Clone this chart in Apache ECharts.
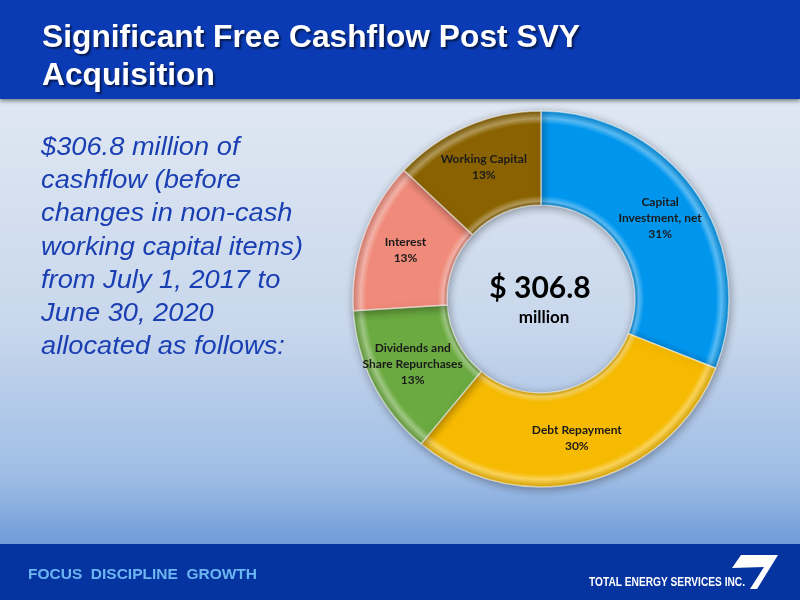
<!DOCTYPE html>
<html><head><meta charset="utf-8">
<script src="https://cdn.jsdelivr.net/npm/echarts@6/dist/echarts.min.js"></script>
<style>html,body{margin:0;padding:0;}#c{width:800px;height:600px;}</style>
</head><body><div id="c"></div>
<script>
const categories = ['Capital\nInvestment, net', 'Debt Repayment', 'Dividends and\nShare Repurchases', 'Interest', 'Working Capital'];
const shares = [31, 30, 13, 13, 13];
const sliceColors = ['#0096EE', '#F6BA00', '#6BAA40', '#F08A7A', '#8A6300'];
const titleLines = ['Significant Free Cashflow Post SVY', 'Acquisition'];
const bodyLines = ['$306.8 million of', 'cashflow (before', 'changes in non-cash', 'working capital items)', 'from July 1, 2017 to', 'June 30, 2020', 'allocated as follows:'];
const centerTotal = '$ 306.8';
const centerUnit = 'million';
const footerMotto = 'FOCUS  DISCIPLINE  GROWTH';
const footerCompany = 'TOTAL ENERGY SERVICES INC.';

const CX = 541, CY = 299, R0 = 94, R1 = 188;

const mctx = document.createElement('canvas').getContext('2d');
function fitScale(text, font, target) {
  mctx.font = font;
  return target / mctx.measureText(text).width;
}

function lighten(hex, amt) {
  const n = parseInt(hex.slice(1), 16);
  let r = n >> 16, g = (n >> 8) & 255, b = n & 255;
  r = Math.round(r + (255 - r) * amt); g = Math.round(g + (255 - g) * amt); b = Math.round(b + (255 - b) * amt);
  return `rgb(${r},${g},${b})`;
}
function darken(hex, amt) {
  const n = parseInt(hex.slice(1), 16);
  let r = n >> 16, g = (n >> 8) & 255, b = n & 255;
  return `rgb(${Math.round(r*(1-amt))},${Math.round(g*(1-amt))},${Math.round(b*(1-amt))})`;
}
function bevel(hex) {
  const a = R0 / R1;
  return {
    type: 'radial', x: CX, y: CY, r: R1, global: true,
    colorStops: [
      { offset: a, color: darken(hex, 0.2) },
      { offset: a + 0.02, color: lighten(hex, 0.35) },
      { offset: a + 0.05, color: hex },
      { offset: 0.93, color: hex },
      { offset: 0.96, color: lighten(hex, 0.35) },
      { offset: 1, color: darken(hex, 0.12) }
    ]
  };
}

const data = categories.map((c, i) => ({
  name: c, value: shares[i],
  itemStyle: { color: bevel(sliceColors[i]) }
}));

const titleFont = 'bold 31px "Liberation Sans", Arial';
const bodyFont = 'italic 25px "Liberation Sans", Arial';
const mottoFont = 'bold 15px "Liberation Sans", Arial';
const compFont = 'bold 12.5px "Liberation Sans Narrow", "Liberation Sans", Arial';
const titleScale = fitScale(titleLines[0], titleFont, 538);
const bodyScale = fitScale(bodyLines[3], bodyFont, 262);
const mottoScale = fitScale(footerMotto, mottoFont, 229);
const compScale = fitScale(footerCompany, compFont, 156);

const graphics = [
  { type: 'rect', z: -10, shape: { x: 0, y: 0, width: 800, height: 600 },
    style: { fill: { type: 'linear', x: 0, y: 0, x2: 0, y2: 1, colorStops: [
      { offset: 0, color: '#E4ECF6' }, { offset: 0.2, color: '#DDE6F2' }, { offset: 0.55, color: '#C8D7EC' },
      { offset: 0.8, color: '#9DBCE5' }, { offset: 0.91, color: '#6E9BD8' }, { offset: 1, color: '#6A98D6' }] } } },
  { type: 'rect', z: -9, shape: { x: 0, y: 0, width: 800, height: 99 },
    style: { fill: '#0A3BB5', shadowBlur: 4, shadowColor: 'rgba(0,0,0,0.45)', shadowOffsetY: 2 } },
  { type: 'rect', z: -9, shape: { x: 0, y: 544, width: 800, height: 56 }, style: { fill: '#0533A0' } },
  { type: 'text', z: 5, x: 28, y: 574.5, scaleX: mottoScale, style: { text: footerMotto, fill: '#6CB6F2', font: mottoFont, verticalAlign: 'middle' } },
  { type: 'text', z: 5, x: 589, y: 583, scaleX: compScale, style: { text: footerCompany, fill: '#FFFFFF', font: compFont, verticalAlign: 'middle' } },
  { type: 'polygon', z: 6, shape: { points: [[741, 555], [778, 555], [757, 589], [750, 589], [764, 567], [732, 568]] }, style: { fill: '#FFFFFF' } }
];
titleLines.forEach((t, i) => graphics.push({ type: 'text', z: 5, x: 42, y: 38 + i * 38, scaleX: titleScale,
  style: { text: t, fill: '#FFFFFF', font: titleFont, verticalAlign: 'middle',
    textShadowColor: 'rgba(0,0,0,0.55)', textShadowOffsetX: 2, textShadowOffsetY: 2, textShadowBlur: 2 } }));
bodyLines.forEach((t, i) => graphics.push({ type: 'text', z: 5, x: 41, y: 148 + i * 33.2, scaleX: bodyScale,
  style: { text: t, fill: '#1A3FB3', font: bodyFont, verticalAlign: 'middle' } }));
graphics.push({ type: 'text', z: 20, x: CX - 1, y: CY - 11, style: { text: centerTotal, align: 'center', verticalAlign: 'middle',
  fill: '#000', font: 'bold 30px Lato, "Open Sans", sans-serif' } });
graphics.push({ type: 'text', z: 20, x: CX + 3, y: CY + 19, style: { text: centerUnit, align: 'center', verticalAlign: 'middle',
  fill: '#000', font: 'bold 17px Lato, "Open Sans", sans-serif' } });

const chart = echarts.init(document.getElementById('c'));
chart.setOption({
  animation: false,
  graphic: graphics,
  series: [{
    type: 'pie', center: [CX, CY], radius: [R0, R1], startAngle: 90, clockwise: true,
    data: data,
    itemStyle: { borderColor: 'rgba(255,255,255,0.55)', borderWidth: 1.5,
      shadowBlur: 8, shadowColor: 'rgba(0,0,0,0.35)', shadowOffsetX: 1, shadowOffsetY: 2 },
    label: { show: true, position: 'inside', formatter: p => p.name + '\n' + p.value + '%',
      color: '#1A1A1A', fontFamily: 'Lato, "Open Sans", sans-serif', fontWeight: 'bold', fontSize: 12, lineHeight: 16 },
    labelLine: { show: false },
    emphasis: { disabled: true }
  }]
});
</script></body></html>
